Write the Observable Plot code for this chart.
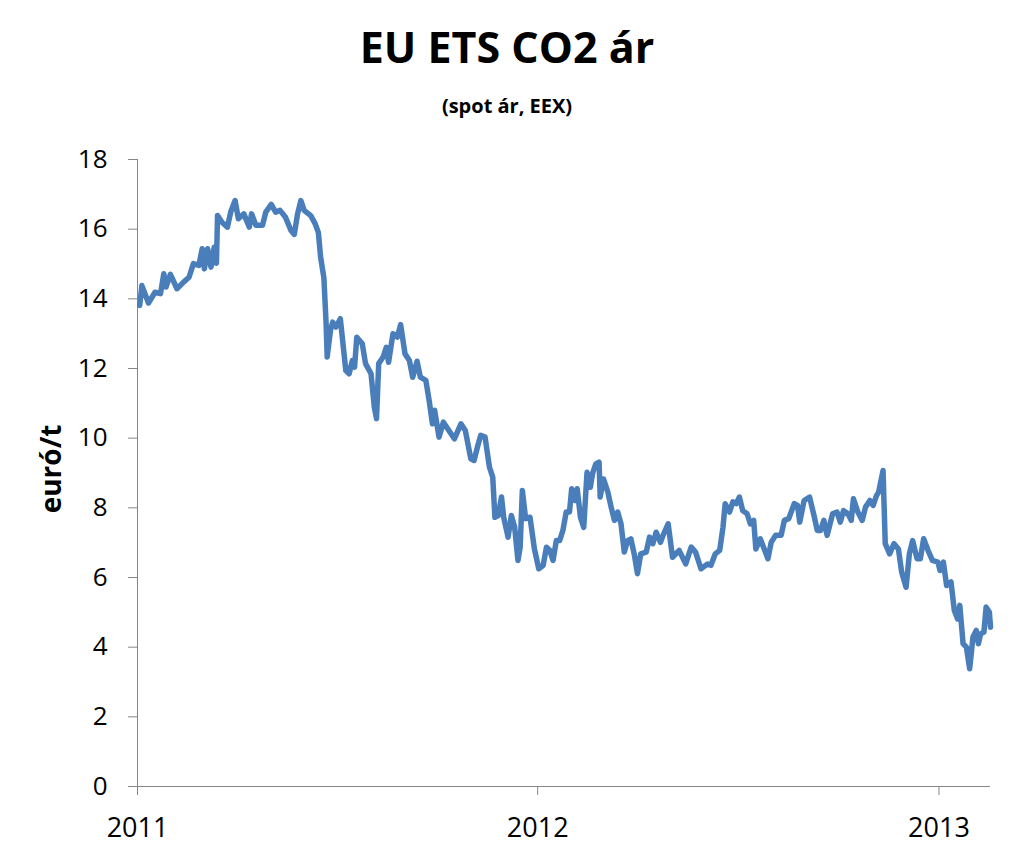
<!DOCTYPE html>
<html>
<head>
<meta charset="utf-8">
<script src="https://cdn.jsdelivr.net/npm/d3@7"></script>
<script src="https://cdn.jsdelivr.net/npm/@observablehq/plot@0.6"></script>
<style>
  html, body { margin: 0; padding: 0; background: #fff; }
  #wrap { width: 1014px; height: 861px; position: relative; font-family: "Open Sans", sans-serif; }
  #header { position: relative; width: 1014px; height: 130px; }
  #title { position: absolute; left: 0; top: 17px; width: 1014px; text-align: center; font-size: 43px; font-weight: 700; color: #000; line-height: normal; }
  #subtitle { position: absolute; left: 0; top: 92px; width: 1014px; text-align: center; font-size: 20px; font-weight: 700; color: #000; line-height: normal; }
  svg { display: block; }
</style>
</head>
<body>
<div id="wrap">
  <div id="header">
    <div id="title">EU ETS CO2 ár</div>
    <div id="subtitle">(spot ár, EEX)</div>
  </div>
  <div id="chart"></div>
</div>
<script>
const titleText = "EU ETS CO2 ár";
const subtitleText = "(spot ár, EEX)";
const yLabel = "euró/t";

const dates = [
"2011-01-03","2011-01-05","2011-01-11","2011-01-17","2011-01-22","2011-01-25","2011-01-27","2011-01-31",
"2011-02-06","2011-02-12","2011-02-17","2011-02-21","2011-02-26","2011-03-01","2011-03-03","2011-03-06",
"2011-03-09","2011-03-12","2011-03-14","2011-03-15","2011-03-19","2011-03-24","2011-03-27","2011-03-31",
"2011-04-03","2011-04-08","2011-04-13","2011-04-15","2011-04-19","2011-04-25","2011-04-28","2011-05-03",
"2011-05-07","2011-05-11","2011-05-16","2011-05-21","2011-05-24","2011-05-27","2011-05-30","2011-06-02",
"2011-06-08","2011-06-12","2011-06-15","2011-06-17","2011-06-20","2011-06-22","2011-06-23","2011-06-26",
"2011-06-28","2011-07-01","2011-07-05","2011-07-10","2011-07-13","2011-07-16","2011-07-18","2011-07-20",
"2011-07-25","2011-07-28","2011-08-02","2011-08-05","2011-08-07","2011-08-09","2011-08-13","2011-08-16",
"2011-08-18","2011-08-22","2011-08-26","2011-08-29","2011-09-02","2011-09-06","2011-09-09","2011-09-13",
"2011-09-16","2011-09-21","2011-09-24","2011-09-27","2011-09-29","2011-10-03","2011-10-07","2011-10-12",
"2011-10-17","2011-10-23","2011-10-27","2011-11-01","2011-11-04","2011-11-07","2011-11-10","2011-11-14",
"2011-11-18","2011-11-21","2011-11-23","2011-11-26","2011-11-29","2011-12-01","2011-12-05","2011-12-08",
"2011-12-11","2011-12-14","2011-12-16","2011-12-18","2011-12-21","2011-12-25","2011-12-29","2012-01-02",
"2012-01-06","2012-01-09","2012-01-12","2012-01-15","2012-01-18","2012-01-21","2012-01-24","2012-01-27",
"2012-01-30","2012-02-01","2012-02-04","2012-02-06","2012-02-09","2012-02-12","2012-02-15","2012-02-18",
"2012-02-20","2012-02-23","2012-02-26","2012-02-27","2012-03-01","2012-03-05","2012-03-08","2012-03-11",
"2012-03-14","2012-03-17","2012-03-20","2012-03-23","2012-03-26","2012-03-29","2012-04-01","2012-04-04",
"2012-04-09","2012-04-12","2012-04-15","2012-04-18","2012-04-22","2012-04-25","2012-04-29","2012-05-03",
"2012-05-09","2012-05-15","2012-05-20","2012-05-24","2012-05-29","2012-06-04","2012-06-07","2012-06-11",
"2012-06-15","2012-06-18","2012-06-20","2012-06-24","2012-06-27","2012-06-30","2012-07-03","2012-07-06",
"2012-07-10","2012-07-13","2012-07-16","2012-07-18","2012-07-22","2012-07-25","2012-07-29","2012-08-01",
"2012-08-05","2012-08-10","2012-08-13","2012-08-17","2012-08-22","2012-08-25","2012-08-27","2012-08-31",
"2012-09-05","2012-09-09","2012-09-12","2012-09-15","2012-09-18","2012-09-21","2012-09-26","2012-09-30",
"2012-10-03","2012-10-06","2012-10-10","2012-10-13","2012-10-15","2012-10-19","2012-10-23","2012-10-26",
"2012-10-30","2012-11-02","2012-11-05","2012-11-07","2012-11-11","2012-11-13","2012-11-17","2012-11-21",
"2012-11-25","2012-11-28","2012-12-02","2012-12-05","2012-12-08","2012-12-12","2012-12-15","2012-12-18",
"2012-12-22","2012-12-26","2012-12-31","2013-01-02","2013-01-05","2013-01-08","2013-01-12","2013-01-15",
"2013-01-18","2013-01-20","2013-01-23","2013-01-26","2013-01-29","2013-02-01","2013-02-04","2013-02-06",
"2013-02-08","2013-02-11","2013-02-13","2013-02-16","2013-02-17"
];

const prices = [
13.81,14.38,13.88,14.19,14.15,14.72,14.34,14.70,
14.29,14.48,14.62,15.01,14.96,15.44,14.86,15.44,
14.91,15.48,15.02,16.39,16.20,16.06,16.49,16.82,
16.30,16.44,16.06,16.44,16.11,16.11,16.49,16.71,
16.49,16.54,16.34,15.96,15.85,16.44,16.82,16.54,
16.39,16.16,15.90,15.20,14.60,13.30,12.33,13.09,
13.33,13.19,13.43,11.94,11.85,12.23,12.04,12.90,
12.71,12.14,11.85,10.89,10.56,12.14,12.33,12.61,
12.18,13.00,12.90,13.26,12.42,12.23,11.75,12.21,
11.75,11.66,11.08,10.41,10.80,10.03,10.46,10.22,
9.98,10.41,10.22,9.41,9.36,9.74,10.08,10.03,
9.17,8.88,7.73,7.78,8.31,7.73,7.16,7.78,
7.44,6.49,6.87,8.50,7.69,7.73,6.82,6.25,
6.35,6.87,6.78,6.49,7.06,7.06,7.35,7.88,
7.88,8.55,8.21,8.55,7.73,7.44,9.02,8.59,
8.98,9.26,9.31,8.31,8.83,8.45,8.02,7.64,
7.88,7.54,6.73,7.06,7.11,6.68,6.11,6.68,
6.73,7.16,6.97,7.30,7.01,7.26,7.54,6.58,
6.78,6.39,6.87,6.73,6.25,6.39,6.35,6.68,
6.78,7.44,8.12,7.88,8.17,8.12,8.31,7.92,
7.83,7.54,7.64,6.82,7.11,6.87,6.54,7.01,
7.21,7.21,7.64,7.69,8.12,8.07,7.59,8.21,
8.31,7.78,7.35,7.35,7.64,7.21,7.83,7.88,
7.59,7.92,7.83,7.64,8.26,7.88,7.64,8.02,
8.21,8.07,8.35,8.45,9.07,6.97,6.68,6.97,
6.82,6.15,5.72,6.68,7.06,6.54,6.54,7.11,
6.78,6.49,6.44,6.20,6.44,5.77,5.87,5.05,
4.81,5.20,4.10,4.00,3.38,4.29,4.48,4.10,
4.38,4.43,5.15,5.00,4.57
];

const yTicks = [0, 2, 4, 6, 8, 10, 12, 14, 16, 18];
const xTickLabels = ["2011", "2012", "2013"];
const xDomain = ["2011-01-01", "2013-02-17"];
const yDomain = [0, 18];

const data = dates.map((d, i) => ({date: new Date(d), price: prices[i]}));
const xTicks = xTickLabels.map(y => new Date(`${y}-01-01`));
const x0 = new Date(xDomain[0]);

const axisGray = "#868686";
const lineBlue = "#4a7ebb";

const chart = Plot.plot({
  width: 1014,
  height: 731,
  marginLeft: 137,
  marginRight: 24,
  marginTop: 29,
  marginBottom: 75,
  style: {fontFamily: "'Open Sans', sans-serif", color: "#000", background: "#fff", overflow: "visible"},
  x: {type: "utc", domain: xDomain.map(d => new Date(d))},
  y: {domain: yDomain},
  marks: [
    Plot.ruleY([0], {stroke: axisGray, strokeWidth: 1}),
    Plot.ruleX([x0], {y1: yDomain[0], y2: yDomain[1], stroke: axisGray, strokeWidth: 1}),
    Plot.axisY({
      ticks: yTicks,
      tickSize: 9,
      tickPadding: 21,
      stroke: axisGray,
      fontSize: 26,
      label: null
    }),
    Plot.axisX({
      ticks: xTicks,
      tickFormat: d3.utcFormat("%Y"),
      tickSize: 9,
      tickPadding: 22,
      stroke: axisGray,
      fontSize: 27,
      label: null
    }),
    Plot.line(data, {
      x: "date",
      y: "price",
      stroke: lineBlue,
      strokeWidth: 5.5,
      strokeLinejoin: "round",
      strokeLinecap: "round"
    }),
    Plot.text([yLabel], {
      frameAnchor: "left",
      text: d => d,
      textAnchor: "middle",
      lineAnchor: "middle",
      rotate: -90,
      dx: -85,
      dy: -4,
      fontSize: 28,
      fontWeight: "bold",
      fill: "#000"
    })
  ]
});

document.getElementById("title").textContent = titleText;
document.getElementById("subtitle").textContent = subtitleText;
document.getElementById("chart").appendChild(chart);
</script>
</body>
</html>
